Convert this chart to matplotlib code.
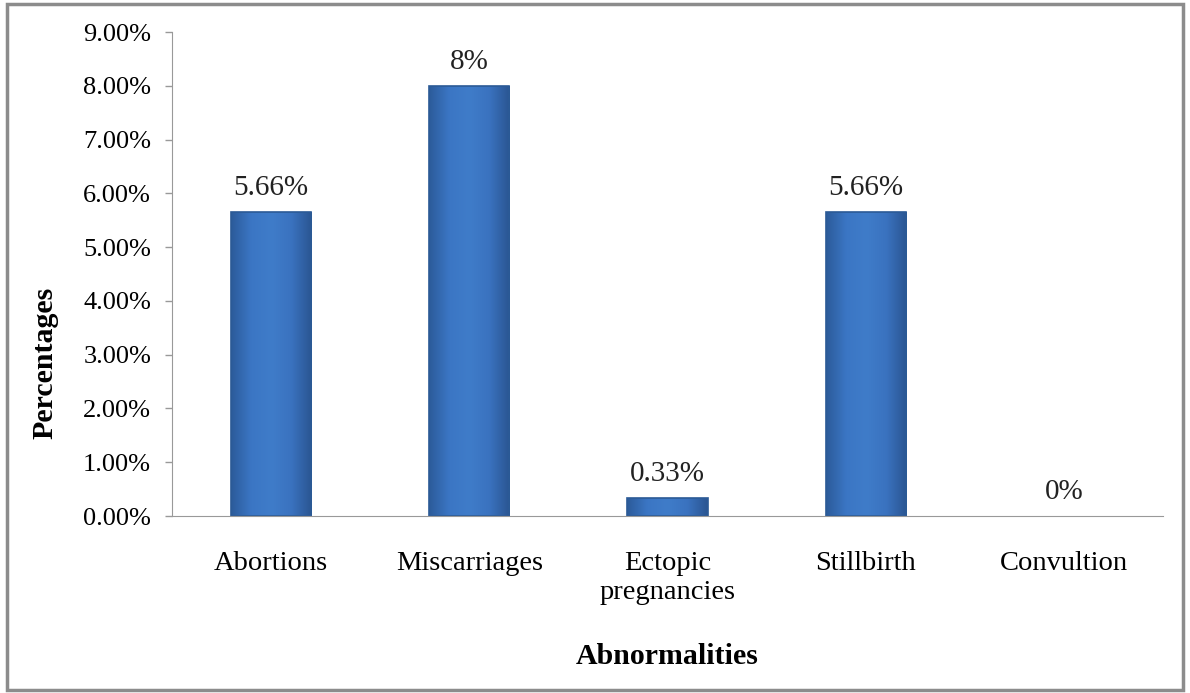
import numpy as np
import matplotlib.pyplot as plt
from matplotlib.patches import Rectangle
from matplotlib.colors import LinearSegmentedColormap
from matplotlib.ticker import FuncFormatter

# values
categories = ["Abortions", "Miscarriages", "Ectopic\npregnancies", "Stillbirth", "Convultion"]
values = [5.66, 8.0, 0.33, 5.66, 0.0]
value_labels = ["5.66%", "8%", "0.33%", "5.66%", "0%"]
y_ticks = [0, 1, 2, 3, 4, 5, 6, 7, 8, 9]

plt.rcParams['font.family'] = ['Liberation Serif', 'DejaVu Serif']

fig = plt.figure(figsize=(11.9, 6.93), dpi=100)
ax = fig.add_axes([0.1445, 0.2554, 0.8328, 0.6984])

x = list(range(len(categories)))
bars = ax.bar(x, values, width=0.405, color='#3d74c2', edgecolor='#2b5a96', linewidth=0)

# soft horizontal shading like the reference bars
cmap = LinearSegmentedColormap.from_list('bevel', ['#2c5b9a', '#3b76c4', '#3f7cc9', '#3a72bf', '#2a5591'])
grad = np.linspace(0, 1, 256).reshape(1, -1)
for b in bars:
    if b.get_height() <= 0:
        continue
    x0, y0 = b.get_x(), b.get_y()
    im = ax.imshow(grad, cmap=cmap, aspect='auto', zorder=b.get_zorder() + 0.1,
                   extent=[x0, x0 + b.get_width(), y0, y0 + b.get_height()])
    im.set_clip_path(b)
    ax.add_patch(Rectangle((x0, y0), b.get_width(), b.get_height(), fill=False,
                           edgecolor='#2b5a96', linewidth=1.2, zorder=b.get_zorder() + 0.2))

for xi, v, lab in zip(x, values, value_labels):
    ax.annotate(lab, (xi, v), xytext=(0, 8), textcoords='offset points',
                ha='center', va='bottom', fontsize=21, color='#222222')

ax.set_xlim(-0.5, len(categories) - 0.5)
ax.set_ylim(0, 9)
ax.set_yticks(y_ticks)
ax.yaxis.set_major_formatter(FuncFormatter(lambda v, p: f"{v:.2f}%"))
ax.set_xticks(x)
ax.set_xticklabels(categories, fontsize=20.5, linespacing=1.25)
ax.tick_params(axis='x', length=0, pad=25)
ax.tick_params(axis='y', length=5, width=1, color='#999999', labelsize=19, pad=10)

for s in ['top', 'right']:
    ax.spines[s].set_visible(False)
ax.spines['left'].set_color('#999999')
ax.spines['bottom'].set_color('#999999')

ax.set_ylabel("Percentages", fontsize=21.5, fontweight='bold')
ax.yaxis.set_label_coords(-0.115, 0.316)
ax.set_xlabel("Abnormalities", fontsize=21.5, fontweight='bold', labelpad=27)

# gray frame around the whole chart
fig.patches.append(Rectangle((0.006, 0.005), 0.988, 0.989, transform=fig.transFigure,
                             fill=False, edgecolor='#8c8c8c', linewidth=2.5))

fig.savefig("out.png", dpi=100)
